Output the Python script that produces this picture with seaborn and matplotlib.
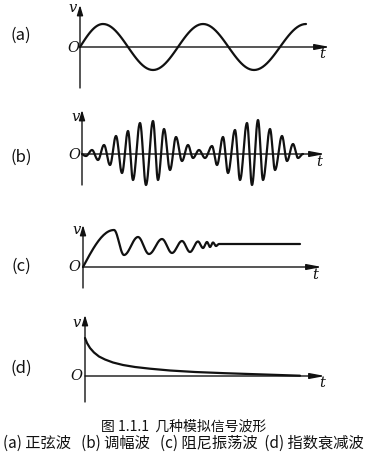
import numpy as np
import pandas as pd
import matplotlib
matplotlib.use("Agg")
import matplotlib.pyplot as plt
import seaborn as sns

# ---------------- data (units = pixels) ----------------
# (a) sine wave: extrema (t, v)
sine_t = [0, 23, 73, 123, 174, 226]
sine_v = [0, 23, -23, 23, -23, 23]

# (b) amplitude-modulated wave: successive extrema
am_t = [0, 4, 10, 16, 22, 28, 34, 40, 46, 51, 58, 64, 71, 76, 82, 88, 94, 100,
        106, 111, 117, 123, 130, 135, 141, 146, 153, 158, 165, 170, 176, 181,
        188, 193, 200, 205, 211, 216, 221]
am_v = [0, -2, 4, -6, 9, -11, 18, -19, 23, -26, 31, -31, 33, -26, 25, -16, 17, -7,
        9, -4, 4, -4, 8, -11, 17, -19, 24, -26, 31, -31, 34, -26,
        25, -16, 18, -7, 10, -4, 0]

# (c) damped oscillation: extrema, then the steady level
damp_t = [0, 31, 41, 55, 66, 79, 89, 99, 107, 115, 120, 124, 127, 130, 133, 136, 217]
damp_v = [0, 37, 12, 30, 13, 28, 14, 26, 15, 25.5, 19, 25, 20, 24.5, 21, 23, 23]

# (d) exponential decay
decay_t = [0, 2, 5, 9, 14, 20, 28, 38, 50, 65, 85, 110, 140, 170, 200, 215]
decay_v = [38, 33, 28, 23.5, 19.5, 16.5, 13.5, 11, 9, 7.3, 5.5, 4, 2.8, 1.8, 0.8, 0.3]

panel_labels = ["(a)", "(b)", "(c)", "(d)"]
caption1 = "图 1.1.1  几种模拟信号波形"
caption2 = "(a) 正弦波   (b) 调幅波   (c) 阻尼振荡波  (d) 指数衰减波"

# ---------------- layout ----------------
W, H = 372, 475
sns.set_theme(style="white")
plt.rcParams["font.family"] = ["Noto Sans CJK SC", "DejaVu Sans"]

fig = plt.figure(figsize=(W / 100, H / 100), dpi=100)
fig.patch.set_facecolor("white")

INK = "#111111"


def smooth_through(te, ve, n=24, quarter_start=True):
    """Draw a smooth stroke through read extrema (half-cosine between them)."""
    ts, vs = [], []
    for i in range(len(te) - 1):
        s = np.linspace(0, 1, n, endpoint=False)
        if i == 0 and quarter_start:
            w = np.sin(s * np.pi / 2)
        else:
            w = (1 - np.cos(s * np.pi)) / 2
        ts.append(te[i] + s * (te[i + 1] - te[i]))
        vs.append(ve[i] + w * (ve[i + 1] - ve[i]))
    ts.append([te[-1]])
    vs.append([ve[-1]])
    return pd.DataFrame({"t": np.concatenate(ts), "v": np.concatenate(vs)})


def make_axes(ox, oy, xlim, ylim):
    x0, x1 = xlim
    y0, y1 = ylim
    rect = [(ox + x0) / W, 1 - (oy - y0) / H, (x1 - x0) / W, (y1 - y0) / H]
    ax = fig.add_axes(rect)
    ax.set_xlim(x0, x1)
    ax.set_ylim(y0, y1)
    ax.axis("off")
    return ax


def draw_axes(ax, t_end, v_top, v_bot):
    ax.annotate("", xy=(t_end, 0), xytext=(0, 0),
                arrowprops=dict(arrowstyle="-|>,head_length=0.9,head_width=0.17",
                                lw=1.0, color=INK, mutation_scale=10,
                                shrinkA=0, shrinkB=0))
    ax.annotate("", xy=(0, v_top), xytext=(0, v_bot),
                arrowprops=dict(arrowstyle="-|>,head_length=0.6,head_width=0.18",
                                lw=1.0, color=INK, mutation_scale=10,
                                shrinkA=0, shrinkB=0))


def ftext(x, y, s, **kw):
    fig.text(x / W, 1 - y / H, s, ha="center", va="center", color=INK, **kw)


serif_it = dict(family=["DejaVu Serif"], style="italic", fontsize=10.5)

panels = [
    # origin, t_end, v_top, v_bot, data, smooth, label pos, v pos, O pos, t pos
    ((80, 47), 250, 42, -41, (sine_t, sine_v), True, (21, 35), (73, 8), (73, 48), (322, 54)),
    ((82, 154), 243, 44, -31, (am_t, am_v), True, (21, 157), (76, 117), (74, 155), (319, 162)),
    ((83, 267), 239, 42, -21, (damp_t, damp_v), True, (21, 266), (77, 230), (74, 267), (315, 275)),
    ((85, 376), 240, 61, -26, (decay_t, decay_v), False, (21, 368), (77, 323), (76, 376), (322, 383)),
]

for i, (org, t_end, vt, vb, (tt, vv), smooth, lp, vp, op, tp) in enumerate(panels):
    ox, oy = org
    ax = make_axes(ox, oy, (-12, 262), (vb - 4, vt + 4))
    draw_axes(ax, t_end, vt, vb)
    if smooth:
        df = smooth_through(tt, vv)
    else:
        df = pd.DataFrame({"t": tt, "v": vv})
    sns.lineplot(data=df, x="t", y="v", ax=ax, color=INK, lw=1.6, sort=False,
                 estimator=None)
    ftext(*lp, panel_labels[i], fontsize=12)
    ftext(*vp, "v", **serif_it)
    ftext(*op, "O", **serif_it)
    ftext(*tp, "t", **serif_it)

ftext(184, 427, caption1, fontsize=10)
ftext(183, 443, caption2, fontsize=11)

fig.savefig("out.png", dpi=100, facecolor="white")
